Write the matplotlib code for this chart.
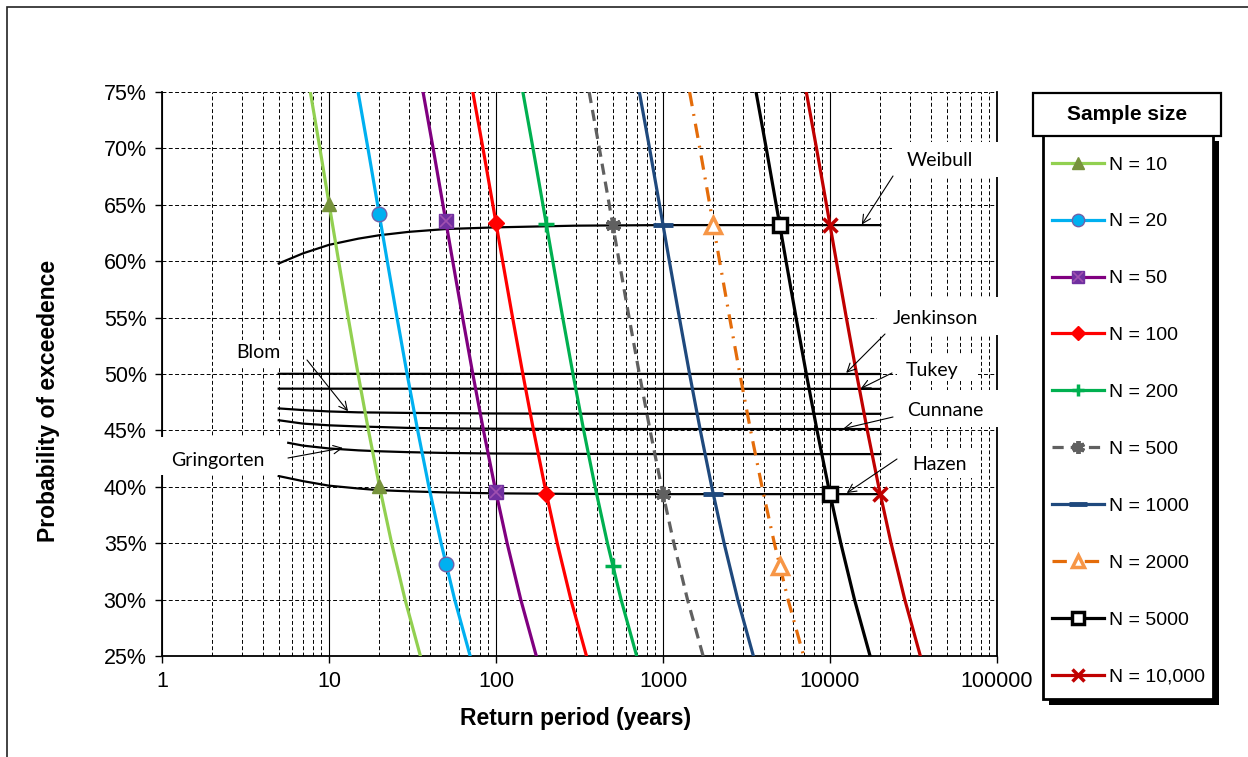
import numpy as np
import matplotlib
matplotlib.use('Agg')
import matplotlib.pyplot as plt
from matplotlib.patches import Rectangle, ConnectionPatch
from matplotlib.lines import Line2D
from matplotlib.legend_handler import HandlerTuple
from matplotlib.ticker import FixedLocator, FuncFormatter, LogLocator, NullFormatter

plt.rcParams['font.family'] = ['Liberation Sans', 'DejaVu Sans']

# ---------------- data ----------------
# probability-of-exceedence levels (%) at which each sample-size curve was read
P_levels = [75, 70, 65, 60, 55, 50, 45, 40, 35, 30, 25]

T_N10 = [7.73, 8.82, 10.03, 11.42, 13.03, 14.93, 17.23, 20.08, 23.72, 28.54, 35.26]
T_N20 = [14.93, 17.11, 19.55, 22.33, 25.55, 29.35, 33.96, 39.65, 46.93, 56.57, 70.02]
T_N50 = [36.57, 42.03, 48.13, 55.07, 63.12, 72.64, 84.14, 98.39, 116.6, 140.7, 174.3]
T_N100 = [72.63, 83.56, 95.76, 109.6, 125.7, 144.8, 167.8, 196.3, 232.6, 280.8, 348.1]
T_N200 = [144.8, 166.6, 191.0, 218.8, 250.9, 289.0, 335.1, 392.0, 464.8, 561.2, 695.7]
T_N500 = [361.2, 415.8, 476.8, 546.2, 626.7, 721.9, 836.9, 979.4, 1161, 1402, 1739]
T_N1000 = [721.8, 831.1, 953.1, 1092, 1253, 1443, 1673, 1958, 2322, 2804, 3477]
T_N2000 = [1443, 1662, 1906, 2183, 2505, 2886, 3346, 3916, 4643, 5607, 6953]
T_N5000 = [3607, 4153, 4763, 5457, 6262, 7214, 8364, 9789, 11607, 14018, 17381]
T_N10000 = [7213, 8306, 9526, 10914, 12523, 14427, 16728, 19577, 23213, 28035, 34761]

# marker points (return period, probability %)
mk_T_N10, mk_P_N10 = [10, 20], [65.1, 40.1]
mk_T_N20, mk_P_N20 = [20, 50], [64.2, 33.2]
mk_T_N50, mk_P_N50 = [50, 100], [63.6, 39.5]
mk_T_N100, mk_P_N100 = [100, 200], [63.4, 39.4]
mk_T_N200, mk_P_N200 = [200, 500], [63.3, 33.0]
mk_T_N500, mk_P_N500 = [500, 1000], [63.2, 39.4]
mk_T_N1000, mk_P_N1000 = [1000, 2000], [63.2, 39.35]
mk_T_N2000, mk_P_N2000 = [2000, 5000], [63.2, 33.0]
mk_T_N5000, mk_P_N5000 = [5000, 10000], [63.2, 39.35]
mk_T_N10000, mk_P_N10000 = [10000, 20000], [63.2, 39.35]

series_labels = ['N = 10', 'N = 20', 'N = 50', 'N = 100', 'N = 200', 'N = 500',
                 'N = 1000', 'N = 2000', 'N = 5000', 'N = 10,000']

# plotting-position curves (x = sample size on the same axis)
pp_x = [5, 7, 10, 15, 20, 30, 50, 100, 300, 1000, 20000]
pp_weibull = [59.8, 60.7, 61.45, 62.0, 62.3, 62.6, 62.85, 63.0, 63.15, 63.2, 63.2]
pp_hazen = [40.95, 40.5, 40.1, 39.85, 39.7, 39.6, 39.5, 39.42, 39.37, 39.35, 39.35]
pp_cunnane = [45.9, 45.6, 45.45, 45.35, 45.3, 45.22, 45.18, 45.15, 45.13, 45.12, 45.12]
pp_blom = [46.95, 46.8, 46.68, 46.6, 46.58, 46.55, 46.53, 46.5, 46.48, 46.47, 46.47]
pp_x_gringorten = [5.7, 7, 10, 15, 20, 30, 50, 100, 300, 1000, 20000]
pp_gringorten = [43.9, 43.65, 43.4, 43.23, 43.15, 43.07, 43.0, 42.95, 42.92, 42.9, 42.9]
pp_x_flat = [5, 20000]
pp_tukey = [48.7, 48.68]
pp_jenkinson = [50.02, 50.0]

y_ticks = [25, 30, 35, 40, 45, 50, 55, 60, 65, 70, 75]

# ---------------- figure ----------------
W, H = 1248, 757
fig = plt.figure(figsize=(12.48, 7.57), dpi=100)


def fx(px):
    return px / W


def fy(py):
    return 1 - py / H


ax = fig.add_axes([fx(162), fy(656), fx(997) - fx(162), fy(92) - fy(656)])
ax.set_xscale('log')
ax.set_xlim(1, 1e5)
ax.set_ylim(25, 75)
ax.set_axisbelow(True)

ax.xaxis.set_major_locator(LogLocator(base=10, numticks=10))
ax.xaxis.set_minor_locator(LogLocator(base=10, subs=np.arange(2, 10), numticks=100))
ax.xaxis.set_major_formatter(FuncFormatter(lambda v, p: f'{v:.0f}'))
ax.xaxis.set_minor_formatter(NullFormatter())
ax.yaxis.set_major_locator(FixedLocator(y_ticks))
ax.yaxis.set_major_formatter(FuncFormatter(lambda v, p: f'{v:.0f}%'))

dash = (0, (4, 2.5))
ax.grid(True, which='major', axis='x', color='black', lw=0.8, ls='-')
ax.grid(True, which='minor', axis='x', color='black', lw=0.7, ls=dash)
ax.grid(True, which='major', axis='y', color='black', lw=0.7, ls=dash)
ax.tick_params(which='minor', length=0)
ax.tick_params(which='major', direction='out', length=5, width=1, labelsize=15.5, pad=6)
ax.spines['top'].set_visible(False)
for s in ['left', 'bottom', 'right']:
    ax.spines[s].set_linewidth(1.3)
    ax.spines[s].set_color('black')

# plotting-position curves
for xs, ys in [(pp_x, pp_weibull), (pp_x_flat, pp_jenkinson), (pp_x_flat, pp_tukey),
               (pp_x, pp_blom), (pp_x, pp_cunnane), (pp_x_gringorten, pp_gringorten),
               (pp_x, pp_hazen)]:
    ax.plot(xs, ys, color='black', lw=1.6, zorder=2)

lw = 2.3
curve_T = [T_N10, T_N20, T_N50, T_N100, T_N200, T_N500, T_N1000, T_N2000, T_N5000, T_N10000]
mk_T = [mk_T_N10, mk_T_N20, mk_T_N50, mk_T_N100, mk_T_N200, mk_T_N500, mk_T_N1000,
        mk_T_N2000, mk_T_N5000, mk_T_N10000]
mk_P = [mk_P_N10, mk_P_N20, mk_P_N50, mk_P_N100, mk_P_N200, mk_P_N500, mk_P_N1000,
        mk_P_N2000, mk_P_N5000, mk_P_N10000]

styles = [
    dict(color='#92D050', ls='-', marker='^', ms=10.5, mfc='#77933C', mec='#77933C', mew=1),
    dict(color='#00B0F0', ls='-', marker='o', ms=10.5, mfc='#00B0F0', mec='#7060A8', mew=1),
    dict(color='#800080', ls='-', marker='s', ms=9.5, mfc='#7030A0', mec='#7030A0', mew=1),
    dict(color='#FF0000', ls='-', marker='D', ms=8, mfc='#FF0000', mec='#FF0000', mew=1),
    dict(color='#00B050', ls='-', marker='+', ms=11, mfc='#00B050', mec='#00B050', mew=2.5),
    dict(color='#606060', ls=(0, (3.5, 2.2)), marker=(6, 2, 0), ms=11, mfc='#606060', mec='#606060', mew=2.8),
    dict(color='#1F497D', ls='-', marker='_', ms=15, mfc='#1F497D', mec='#1F497D', mew=3.5),
    dict(color='#E46C0A', ls=(0, (4.5, 2.5, 0.6, 2.5)), marker='^', ms=11, mfc='white', mec='#F79646', mew=2.5),
    dict(color='#000000', ls='-', marker='s', ms=9.5, mfc='white', mec='#000000', mew=2.5),
    dict(color='#C00000', ls='-', marker='x', ms=10, mfc='#C00000', mec='#C00000', mew=2.5),
]

handles = []
for i in range(len(curve_T)):
    st = styles[i]
    ax.plot(curve_T[i], P_levels, color=st['color'], ls=st['ls'], lw=lw, zorder=3)
    ax.plot(mk_T[i], mk_P[i], ls='none', marker=st['marker'], ms=st['ms'], mfc=st['mfc'],
            mec=st['mec'], mew=st['mew'], zorder=4)
    h = Line2D([], [], color=st['color'], ls=st['ls'], lw=lw, marker=st['marker'], ms=st['ms'] * 0.85,
               mfc=st['mfc'], mec=st['mec'], mew=st['mew'])
    if i == 2:
        ax.plot(mk_T[i], mk_P[i], ls='none', marker='x', ms=8, mec='#A050B0', mew=1.2, zorder=5)
        h = (h, Line2D([], [], ls='none', marker='x', ms=7, mec='#A050B0', mew=1.2))
    handles.append(h)

# axis labels
fig.text(fx(576), fy(718), 'Return period (years)', ha='center', va='center',
         fontsize=16.5, fontweight='bold')
fig.text(fx(49), fy(401), 'Probability of exceedence', ha='center', va='center',
         rotation=90, fontsize=16.5, fontweight='bold')

# legend frame, shadow, title box
def frect(x0, y0, x1, y1, **kw):
    r = Rectangle((fx(x0), fy(y1)), fx(x1) - fx(x0), fy(y0) - fy(y1),
                  transform=fig.transFigure, **kw)
    fig.add_artist(r)
    return r

frect(1049, 141, 1219, 705, facecolor='black', edgecolor='none', zorder=3)
frect(1043, 135, 1213, 699, facecolor='white', edgecolor='black', lw=2, zorder=3.5)
frect(1033, 93, 1221, 136, facecolor='white', edgecolor='black', lw=1.6, zorder=3.6)
fig.text(fx(1127), fy(115), 'Sample size', ha='center', va='center', fontsize=15,
         fontweight='bold', zorder=6)

leg = fig.legend(handles, series_labels, loc='upper left',
                 bbox_to_anchor=(fx(1052), fy(156)), bbox_transform=fig.transFigure,
                 frameon=False, fontsize=14, borderpad=0, borderaxespad=0,
                 handlelength=2.65, handletextpad=0.3, labelspacing=2.02,
                 handler_map={tuple: HandlerTuple(ndivide=1)})
leg.set_zorder(5)

# label boxes (white) covering grid
lbl_font = ['Lato', 'DejaVu Sans']
boxes = [
    ('Weibull', (892, 142, 1003, 177), (940, 161)),
    ('Jenkinson', (877, 297, 1003, 335), (935, 319)),
    ('Tukey', (897, 355, 978, 381), (932, 371)),
    ('Cunnane', (895, 390, 1003, 427), (945, 411)),
    ('Hazen', (902, 450, 978, 478), (939, 464)),
    ('Blom', (228, 340, 292, 368), (258, 353)),
    ('Gringorten', (150, 437, 280, 475), (218, 460)),
]
for name, (x0, y0, x1, y1), (cx, cy) in boxes:
    frect(x0, y0, x1, y1, facecolor='white', edgecolor='none', zorder=1)
    fig.text(fx(cx), fy(cy), name, ha='center', va='center', fontsize=14,
             family=lbl_font, zorder=2)

arrows = [
    ((893, 176), (15500, 63.25)),
    ((885, 334), (12500, 50.1)),
    ((892, 373), (15300, 48.72)),
    ((893, 417), (12000, 45.15)),
    ((897, 459), (12600, 39.45)),
    ((307, 360), (13, 46.7)),
    ((288, 458), (12.1, 43.45)),
]
for (sx, sy), (tx, ty) in arrows:
    cp = ConnectionPatch(xyA=(fx(sx), fy(sy)), coordsA='figure fraction',
                         xyB=(tx, ty), coordsB='data', axesB=ax,
                         arrowstyle='->,head_length=0.6,head_width=0.3', lw=0.8,
                         color='black', zorder=2.5, shrinkA=0, shrinkB=0)
    fig.add_artist(cp)

# outer chart border
frect(7, 7, 1300, 800, facecolor='none', edgecolor='#222222', lw=1.2, zorder=0.5)

fig.savefig('out.png', dpi=100)
